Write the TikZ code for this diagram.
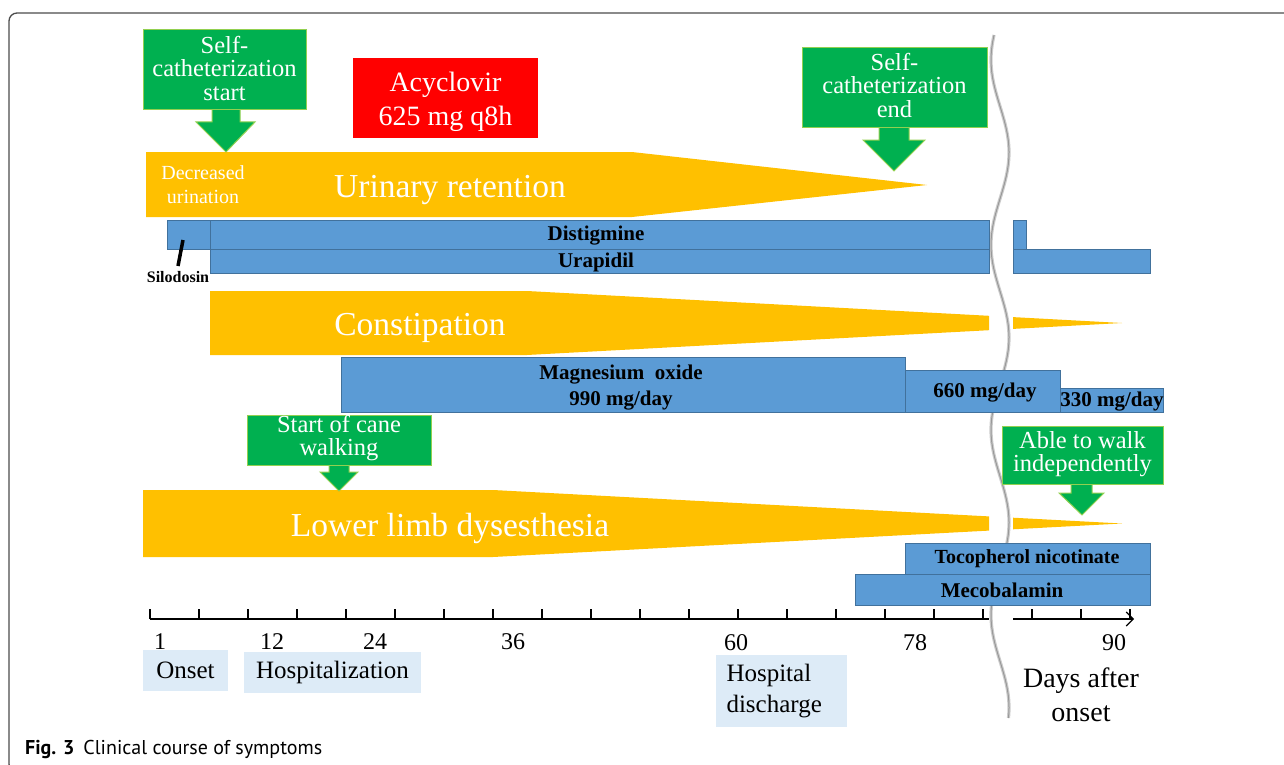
\documentclass[tikz,border=0pt]{standalone}
\usepackage{fontspec}
\setmainfont{Liberation Serif}
\newfontfamily\capfont{PT Sans}
\usetikzlibrary{arrows.meta}
\definecolor{cor}{HTML}{FFC000}
\definecolor{cgr}{HTML}{00B050}
\definecolor{cgrb}{HTML}{92D050}
\definecolor{cbl}{HTML}{5B9BD5}
\definecolor{cblb}{HTML}{41719C}
\definecolor{clb}{HTML}{DDEBF7}
\newcommand\fsz[2]{\fontsize{#1}{#2}\selectfont}
\begin{document}
\begin{tikzpicture}[x=1pt,y=-1pt,
  callout/.style={fill=cgr,draw=cgrb,line width=1,inner sep=0},
  ctext/.style={text=white,align=center,inner sep=0,font=\fsz{24.5}{23.5}},
  carrow/.style={fill=cgr,draw=cgrb,line width=1},
  orange/.style={fill=cor,draw=none},
  otext/.style={text=white,inner sep=0},
  bar/.style={fill=cbl,draw=cblb,line width=0.8},
  btext/.style={font=\fsz{21}{26}\bfseries,inner sep=0,align=center},
  axisline/.style={line width=1.1,black},
  num/.style={font=\fsz{24}{28},inner sep=0},
  lbl/.style={fill=clb,inner sep=0,font=\fsz{25}{31}},
  wave/.style={line width=3.2,gray!40}]
\useasboundingbox (0,0) rectangle (1284,765);
% frame
\begin{scope}
\clip (0,0) rectangle (1284,765);
\draw[gray!60!black,line width=1.3,rounded corners=8] (9,13) rectangle (1300,772);
\end{scope}
% break line
\draw[wave] plot[domain=35:718,samples=200,smooth] ({1000-9*cos(1.94595*(\x-60))},\x);
\draw[line width=1,gray!80] plot[domain=35:718,samples=200,smooth] ({1000-9*cos(1.94595*(\x-60))},\x);
% orange shapes
\fill[orange] (146,152) -- (632,152) -- (927,185) -- (632,217) -- (146,217) -- cycle;
\fill[orange] (210,291) -- (527,291) -- (989,315.8) -- (989,330.2) -- (527,355) -- (210,355) -- cycle;
\fill[orange] (1013,317.1) -- (1122,323) -- (1013,328.9) -- cycle;
\fill[orange] (143,490) -- (493,490) -- (989,516.4) -- (989,530.6) -- (493,557) -- (143,557) -- cycle;
\fill[orange] (1013,517.7) -- (1122,523.5) -- (1013,529.3) -- cycle;
\node[otext,font=\fsz{20}{24},align=center] (du) at (203,185) {Decreased\\urination};
\node[otext,font=\fsz{33.5}{36},anchor=base] (ur) at (450,197) {Urinary retention};
\node[otext,font=\fsz{33.5}{36},anchor=base] (co) at (420,335) {Constipation};
\node[otext,font=\fsz{33.5}{36},anchor=base] (ll) at (450,536) {Lower limb dysesthesia};
% blue bars
\draw[bar] (167,220) rectangle (210,249);
\draw[bar] (210,220) rectangle (989,249);
\draw[bar] (210,249) rectangle (989,273);
\draw[bar] (1013,220) rectangle (1026,249);
\draw[bar] (1013,249) rectangle (1150,273);
\node[btext] (dis) at (596,236) {Distigmine};
\node[btext] (ura) at (596,262) {Urapidil};
\draw[line width=3.5] (183,240) -- (178,266);
\node[font=\fsz{16}{18}\bfseries,inner sep=0] (sil) at (178,277) {Silodosin};
\draw[bar] (341,357) rectangle (905,412);
\draw[bar] (905,370) rectangle (1060,412);
\draw[bar] (1060,388) rectangle (1163,412);
\node[btext] (mg1) at (621,388) {Magnesium\ \ oxide\\990 mg/day};
\node[btext] (mg2) at (985,393) {660 mg/day};
\node[btext] (mg3) at (1112,402) {330 mg/day};
\draw[bar] (905,543) rectangle (1150,574);
\draw[bar] (855,574) rectangle (1150,605);
\node[btext,font=\fsz{20}{24}\bfseries] (toc) at (1027,559) {Tocopherol nicotinate};
\node[btext] (mec) at (1002,590) {Mecobalamin};
% red box
\node[fill=red,minimum width=185,minimum height=80,inner sep=0] (acy) at (445.5,98) {};
\node[text=white,font=\fsz{28}{34},align=center,inner sep=0,yshift=-4pt] (acyt) at (acy.center) {Acyclovir\\625 mg q8h};
% callouts
\filldraw[carrow] (212,110) -- (212,122) -- (196,122) -- (226,152) -- (255,122) -- (240,122) -- (240,110);
\node[callout,minimum width=163,minimum height=80] (cs) at (224.5,70) {};
\node[ctext] (cst) at (224.5,68) {Self-\\catheterization\\start};
\filldraw[carrow] (879,128) -- (879,140) -- (863,140) -- (894,171) -- (925,140) -- (909,140) -- (909,128);
\node[callout,minimum width=185,minimum height=80] (ce) at (894.5,88) {};
\node[ctext] (cet) at (894.5,85) {Self-\\catheterization\\end};
\filldraw[carrow] (329,465) -- (329,472) -- (320,472) -- (339,491) -- (358,472) -- (349,472) -- (349,465);
\node[callout,minimum width=184,minimum height=50] (cw) at (339,440) {};
\node[ctext] (cwt) at (339,438) {Start of cane\\walking};
\filldraw[carrow] (1071,484) -- (1071,493) -- (1059,493) -- (1082,515) -- (1104,493) -- (1092,493) -- (1092,484);
\node[callout,minimum width=161,minimum height=58] (aw) at (1082.5,455) {};
\node[ctext] (awt) at (1082.5,454) {Able to walk\\independently};
% axis
\draw[axisline] (150,619) -- (989,619);
\draw[axisline,-{Straight Barb[length=7,width=14,line width=1.1]}] (1013,619) -- (1134,619);
\foreach \k in {0,...,17} \draw[axisline] ({150+49*\k},619) -- ({150+49*\k},609);
\foreach \k in {18,...,20} \draw[axisline] ({150+49*\k},619) -- ({150+49*\k},609);
\node[num] (n1) at (160,642) {1};
\node[num] (n12) at (272,642) {12};
\node[num] (n24) at (375,642) {24};
\node[num] (n36) at (513,642) {36};
\node[num] (n60) at (736,643) {60};
\node[num] (n78) at (915,643) {78};
\node[num] (n90) at (1114,643) {90};
\node[lbl,minimum width=85,minimum height=41] (onset) at (185.5,670.5) {Onset};
\node[lbl,minimum width=177,minimum height=41] (hosp) at (332.5,672.5) {Hospitalization};
\node[lbl,minimum width=131,minimum height=72,align=left,text width=110] (disc) at (781.5,691) {Hospital\\discharge};
\node[font=\fsz{28}{34},align=center,inner sep=0] (days) at (1081,695) {Days after\\onset};
% caption
\node[anchor=base west,inner sep=0,font=\capfont\fsz{20}{24}] (cap) at (25,754) {\textbf{Fig. 3}\hspace{9pt}Clinical course of symptoms};
\end{tikzpicture}
\end{document}
